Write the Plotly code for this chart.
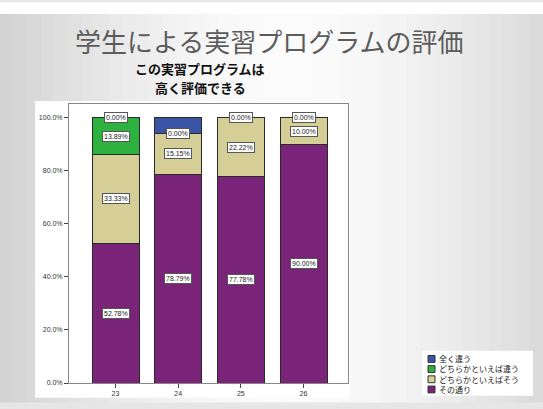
import plotly.graph_objects as go

# ---- data ----
categories = ["23", "24", "25", "26"]
sonotori = [52.78, 78.79, 77.78, 90.00]          # その通り
dochira_sou = [33.33, 15.15, 22.22, 10.00]       # どちらかといえばそう
dochira_chigau = [13.89, 0.00, 0.00, 0.00]       # どちらかといえば違う
mattaku = [0.00, 6.06, 0.00, 0.00]               # 全く違う
series_names = ["その通り", "どちらかといえばそう", "どちらかといえば違う", "全く違う"]
series_vals = [sonotori, dochira_sou, dochira_chigau, mattaku]
series_colors = ["#7a2479", "#d5cf97", "#2eb13f", "#3b55a6"]
y_ticks = [0, 20, 40, 60, 80, 100]
title_text = "学生による実習プログラムの評価"
subtitle_lines = ["この実習プログラムは", "高く評価できる"]

W, H = 543, 409
L, R, T, B = 69, 348, 104, 389


def px(x):
    return (x - L) / (R - L)


def py(y):
    return (B - y) / (B - T)


fig = go.Figure()
for name, vals, col in zip(series_names, series_vals, series_colors):
    fig.add_trace(go.Bar(x=categories, y=vals, name=name, width=0.75,
                         marker=dict(color=col, line=dict(color="#2a2a2a", width=1)),
                         showlegend=False, hoverinfo="skip"))

# data labels
annotations = []
for i, c in enumerate(categories):
    base = 0.0
    last = None
    for vals in series_vals:
        v = vals[i]
        center = base + v / 2
        if last is None or abs(center - last) >= 4:
            annotations.append(dict(x=i, y=center, xref="x", yref="y", text=f"{v:.2f}%",
                                    showarrow=False, font=dict(size=7, color="#222", family="Arial"),
                                    bgcolor="white", bordercolor="#555", borderwidth=1, borderpad=1))
            last = center
        base += v

# titles
annotations.append(dict(x=px(269), y=py(39), xref="paper", yref="paper", text=title_text,
                        showarrow=False, xanchor="center", yanchor="middle", borderpad=0,
                        font=dict(size=26, color="#5c5c5c", family="Noto Sans CJK JP")))
for k, line in enumerate(subtitle_lines):
    annotations.append(dict(x=px(200), y=py(67.8 + 19 * k), xref="paper", yref="paper",
                            text="<b>" + line + "</b>", showarrow=False, xanchor="center",
                            yanchor="middle", borderpad=0,
                            font=dict(size=13, color="#111", family="Noto Sans CJK JP")))

shapes = []
# background gradient (vertical strips)
nstrip = 40
for k in range(nstrip):
    x0 = W * k / nstrip
    x1 = W * (k + 1) / nstrip
    d = abs((x0 + x1) / 2 - 290) / 290
    g = int(252 - 42 * min(d, 1) ** 1.6)
    shapes.append(dict(type="rect", xref="paper", yref="paper", x0=px(x0), x1=px(x1) + 0.002,
                       y0=py(H), y1=py(12), fillcolor=f"rgb({g},{g},{g})", line=dict(width=0),
                       layer="below"))
shapes.append(dict(type="rect", xref="paper", yref="paper", x0=px(0), x1=px(W), y0=py(12), y1=py(0),
                   fillcolor="white", line=dict(width=0), layer="below"))
# white chart box
shapes.append(dict(type="rect", xref="paper", yref="paper", x0=px(35), x1=px(350), y0=py(404), y1=py(101),
                   fillcolor="white", line=dict(width=0), layer="below"))
# legend box
shapes.append(dict(type="rect", xref="paper", yref="paper", x0=px(422), x1=px(533), y0=py(402), y1=py(356),
                   fillcolor="white", line=dict(width=0), layer="below"))

legend_order = list(zip(series_names, series_colors))[::-1]
leg_center = 380.0
leg_step = 10.4
for j, (name, col) in enumerate(legend_order):
    yc = leg_center + (j - 1.5) * leg_step
    shapes.append(dict(type="rect", xref="paper", yref="paper", x0=px(428), x1=px(435),
                       y0=py(yc + 3.5), y1=py(yc - 3.5), fillcolor=col, line=dict(color="#333", width=1)))
annotations.append(dict(x=px(437), y=py(leg_center), xref="paper", yref="paper",
                        text="<br>".join(n for n, _ in legend_order), showarrow=False,
                        xanchor="left", yanchor="middle", align="left",
                        font=dict(size=8, color="#222", family="Noto Sans CJK JP")))

fig.update_layout(
    width=W, height=H, margin=dict(l=L, r=W - R, t=T, b=H - B),
    barmode="stack", bargap=0.25,
    paper_bgcolor="#e6e6e6", plot_bgcolor="#efefef",
    shapes=shapes, annotations=annotations, showlegend=False,
    xaxis=dict(type="category", range=[-0.742, 3.71], showgrid=False, zeroline=False,
               showline=True, linecolor="#888", mirror=True, ticks="outside", ticklen=4,
               tickcolor="#444", tickfont=dict(size=7, color="#333", family="Arial")),
    yaxis=dict(range=[0, 105.2], tickvals=y_ticks, ticktext=[f"{t:.1f}%" for t in y_ticks],
               showgrid=False, zeroline=False, showline=True, linecolor="#888", mirror=True,
               ticks="outside", ticklen=4, tickcolor="#444",
               tickfont=dict(size=7, color="#333", family="Arial")),
)

fig.write_html("out.html")
